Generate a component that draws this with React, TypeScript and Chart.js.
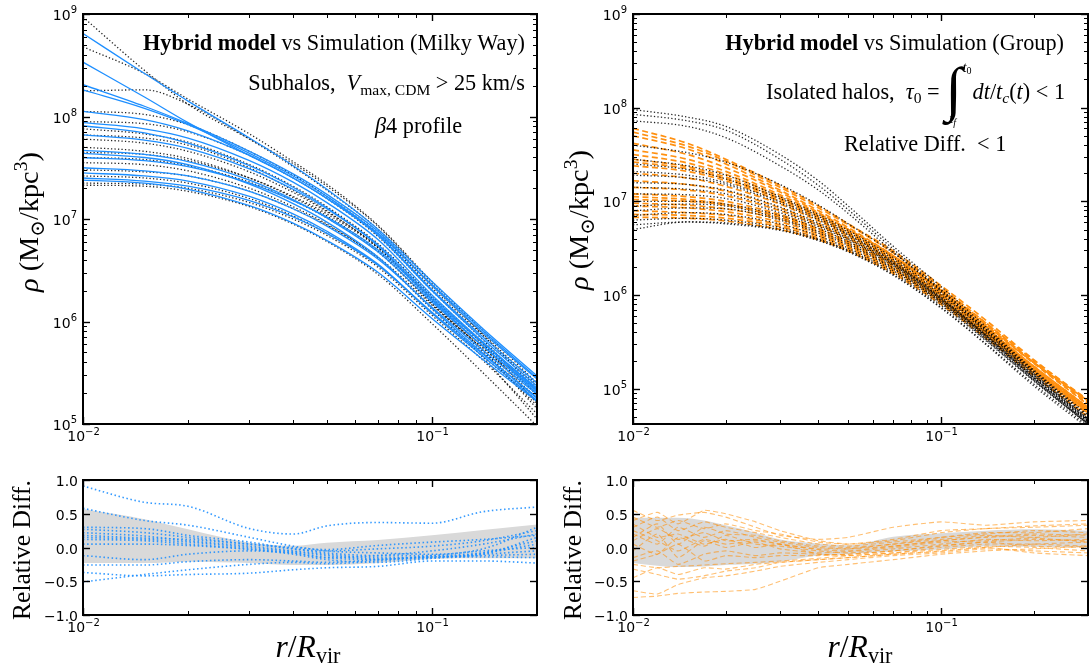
import React, { useEffect, useRef } from "react";
import { Chart, registerables } from "chart.js";

Chart.register(...registerables);

const FIG_W = 1092;
const FIG_H = 671;
const SERIF = "'Liberation Serif', 'DejaVu Serif', serif";
const SANS = "'DejaVu Sans', sans-serif";

// ---------------- radii (r / R_vir) ----------------
const R_MW = [0.01, 0.015, 0.02, 0.03, 0.04, 0.05, 0.07, 0.1, 0.14, 0.2];
const R_GRP = [0.01, 0.015, 0.02, 0.03, 0.04, 0.05, 0.07, 0.1, 0.14, 0.2, 0.3];
const R_GRP_RES = [0.01, 0.012, 0.014, 0.017, 0.02, 0.025, 0.03, 0.04, 0.05, 0.07, 0.1, 0.14, 0.2, 0.3];

// ---------------- tick values ----------------
const RES_TICKS = [-1, -0.5, 0, 0.5, 1];

// ---------------- Milky Way: hybrid model, log10(rho) ----------------
const MW_MODEL_LOG = [
  [8.81, 8.42, 8.15, 7.79, 7.52, 7.29, 6.90, 6.39, 5.93, 5.47],
  [8.53, 8.19, 7.94, 7.62, 7.40, 7.20, 6.86, 6.36, 5.91, 5.45],
  [8.31, 8.10, 7.93, 7.66, 7.44, 7.24, 6.88, 6.35, 5.89, 5.44],
  [8.26, 8.08, 7.92, 7.64, 7.42, 7.22, 6.85, 6.31, 5.85, 5.40],
  [8.05, 7.97, 7.86, 7.62, 7.40, 7.20, 6.84, 6.30, 5.83, 5.37],
  [7.94, 7.88, 7.79, 7.57, 7.36, 7.16, 6.80, 6.26, 5.80, 5.34],
  [7.91, 7.84, 7.74, 7.52, 7.31, 7.11, 6.74, 6.21, 5.76, 5.30],
  [7.82, 7.77, 7.69, 7.49, 7.29, 7.10, 6.75, 6.24, 5.79, 5.33],
  [7.67, 7.63, 7.56, 7.38, 7.19, 7.01, 6.68, 6.19, 5.76, 5.32],
  [7.64, 7.60, 7.53, 7.34, 7.15, 6.97, 6.63, 6.13, 5.69, 5.25],
  [7.60, 7.57, 7.51, 7.35, 7.18, 7.02, 6.70, 6.22, 5.79, 5.35],
  [7.50, 7.47, 7.42, 7.27, 7.10, 6.93, 6.61, 6.14, 5.72, 5.29],
  [7.45, 7.42, 7.37, 7.22, 7.05, 6.88, 6.56, 6.08, 5.66, 5.23],
  [7.40, 7.37, 7.32, 7.18, 7.02, 6.86, 6.55, 6.09, 5.68, 5.26],
  [7.38, 7.35, 7.29, 7.13, 6.96, 6.79, 6.48, 6.03, 5.63, 5.22],
];

// ---------------- Milky Way: simulation, log10(rho) ----------------
const MW_SIM_LOG = [
  [8.97, 8.45, 8.12, 7.78, 7.54, 7.32, 6.93, 6.37, 5.87, 5.33],
  [8.68, 8.42, 8.17, 7.83, 7.56, 7.34, 6.94, 6.39, 5.91, 5.40],
  [8.25, 8.26, 8.12, 7.78, 7.51, 7.28, 6.90, 6.35, 5.88, 5.38],
  [8.05, 8.02, 7.92, 7.66, 7.43, 7.22, 6.86, 6.33, 5.86, 5.36],
  [7.95, 7.93, 7.85, 7.62, 7.40, 7.20, 6.83, 6.30, 5.82, 5.28],
  [7.88, 7.83, 7.75, 7.53, 7.32, 7.12, 6.76, 6.25, 5.78, 5.20],
  [7.82, 7.79, 7.72, 7.50, 7.28, 7.08, 6.72, 6.20, 5.72, 5.15],
  [7.78, 7.74, 7.66, 7.46, 7.26, 7.07, 6.73, 6.22, 5.75, 5.25],
  [7.70, 7.66, 7.59, 7.40, 7.21, 7.03, 6.69, 6.18, 5.72, 5.22],
  [7.65, 7.63, 7.57, 7.40, 7.22, 7.05, 6.72, 6.23, 5.78, 5.32],
  [7.55, 7.53, 7.47, 7.30, 7.12, 6.95, 6.62, 6.12, 5.65, 5.05],
  [7.48, 7.46, 7.42, 7.27, 7.10, 6.94, 6.63, 6.16, 5.74, 5.30],
  [7.42, 7.40, 7.35, 7.20, 7.03, 6.86, 6.55, 6.08, 5.66, 5.22],
  [7.35, 7.34, 7.30, 7.16, 7.00, 6.84, 6.53, 6.06, 5.62, 5.10],
  [7.33, 7.32, 7.27, 7.12, 6.95, 6.78, 6.46, 5.98, 5.50, 4.98],
  [7.60, 7.58, 7.52, 7.36, 7.18, 7.01, 6.68, 6.17, 5.70, 5.18],
];

// ---------------- Group: hybrid model, log10(rho) ----------------
const GRP_MODEL_LOG = [
  [7.78, 7.62, 7.45, 7.17, 6.95, 6.76, 6.47, 6.10, 5.73, 5.31, 4.87],
  [7.74, 7.59, 7.43, 7.15, 6.93, 6.75, 6.45, 6.08, 5.70, 5.28, 4.84],
  [7.70, 7.56, 7.40, 7.12, 6.90, 6.72, 6.42, 6.05, 5.68, 5.27, 4.83],
  [7.62, 7.50, 7.36, 7.10, 6.88, 6.70, 6.41, 6.04, 5.66, 5.24, 4.80],
  [7.55, 7.45, 7.32, 7.07, 6.87, 6.70, 6.42, 6.06, 5.70, 5.30, 4.88],
  [7.50, 7.41, 7.29, 7.05, 6.85, 6.68, 6.40, 6.04, 5.68, 5.28, 4.86],
  [7.45, 7.37, 7.26, 7.03, 6.84, 6.67, 6.39, 6.02, 5.65, 5.24, 4.80],
  [7.42, 7.35, 7.24, 7.02, 6.83, 6.66, 6.38, 6.01, 5.64, 5.23, 4.79],
  [7.38, 7.32, 7.22, 7.00, 6.81, 6.65, 6.37, 6.00, 5.63, 5.22, 4.78],
  [7.30, 7.25, 7.16, 6.97, 6.79, 6.63, 6.36, 6.00, 5.63, 5.22, 4.78],
  [7.22, 7.18, 7.11, 6.93, 6.76, 6.61, 6.34, 5.98, 5.61, 5.20, 4.76],
  [7.15, 7.12, 7.06, 6.90, 6.74, 6.60, 6.34, 5.99, 5.63, 5.23, 4.80],
  [7.08, 7.05, 7.00, 6.86, 6.71, 6.57, 6.31, 5.96, 5.60, 5.20, 4.76],
  [7.02, 7.00, 6.96, 6.83, 6.69, 6.55, 6.30, 5.96, 5.60, 5.20, 4.77],
  [6.98, 6.96, 6.92, 6.81, 6.67, 6.54, 6.29, 5.95, 5.59, 5.19, 4.75],
  [6.95, 6.93, 6.89, 6.78, 6.65, 6.52, 6.27, 5.93, 5.57, 5.17, 4.73],
  [6.90, 6.88, 6.85, 6.75, 6.63, 6.51, 6.27, 5.94, 5.59, 5.20, 4.77],
  [6.86, 6.85, 6.82, 6.73, 6.61, 6.49, 6.25, 5.92, 5.57, 5.17, 4.74],
  [6.83, 6.82, 6.79, 6.70, 6.59, 6.47, 6.23, 5.90, 5.54, 5.14, 4.70],
  [7.05, 7.02, 6.97, 6.84, 6.70, 6.57, 6.33, 6.00, 5.66, 5.28, 4.87],
];

// ---------------- Group: simulation, log10(rho) ----------------
const GRP_SIM_LOG = [
  [7.98, 7.90, 7.80, 7.50, 7.22, 6.95, 6.52, 6.09, 5.66, 5.20, 4.72],
  [7.93, 7.86, 7.76, 7.45, 7.17, 6.91, 6.49, 6.06, 5.63, 5.17, 4.68],
  [7.86, 7.80, 7.68, 7.38, 7.12, 6.87, 6.46, 6.04, 5.61, 5.15, 4.66],
  [7.45, 7.38, 7.28, 7.05, 6.86, 6.69, 6.40, 6.02, 5.62, 5.18, 4.70],
  [7.40, 7.34, 7.24, 7.03, 6.84, 6.67, 6.38, 6.00, 5.60, 5.16, 4.68],
  [7.32, 7.28, 7.20, 7.00, 6.82, 6.65, 6.36, 5.98, 5.58, 5.14, 4.66],
  [7.28, 7.25, 7.18, 6.98, 6.80, 6.64, 6.35, 5.97, 5.57, 5.12, 4.64],
  [7.20, 7.18, 7.12, 6.94, 6.77, 6.62, 6.34, 5.96, 5.56, 5.12, 4.65],
  [7.15, 7.13, 7.08, 6.91, 6.75, 6.60, 6.33, 5.96, 5.57, 5.14, 4.67],
  [7.08, 7.07, 7.03, 6.88, 6.73, 6.59, 6.32, 5.95, 5.56, 5.12, 4.65],
  [7.00, 7.00, 6.97, 6.85, 6.71, 6.57, 6.31, 5.94, 5.55, 5.11, 4.63],
  [6.95, 6.97, 6.95, 6.82, 6.68, 6.55, 6.29, 5.93, 5.54, 5.10, 4.62],
  [6.90, 6.93, 6.92, 6.80, 6.66, 6.53, 6.28, 5.92, 5.53, 5.09, 4.62],
  [6.85, 6.88, 6.86, 6.76, 6.63, 6.50, 6.26, 5.91, 5.52, 5.09, 4.63],
  [6.80, 6.82, 6.80, 6.72, 6.60, 6.48, 6.24, 5.89, 5.51, 5.08, 4.62],
  [6.75, 6.78, 6.77, 6.70, 6.59, 6.47, 6.22, 5.87, 5.48, 5.05, 4.60],
  [6.70, 6.78, 6.76, 6.69, 6.58, 6.46, 6.21, 5.86, 5.47, 5.03, 4.58],
  [7.60, 7.52, 7.42, 7.18, 6.96, 6.76, 6.45, 6.05, 5.64, 5.19, 4.70],
];

// ---------------- Milky Way: relative difference ----------------
const MW_RES = [
  [0.91, 0.67, 0.61, 0.28, 0.20, 0.32, 0.37, 0.36, 0.53, 0.60],
  [0.58, 0.40, 0.33, 0.15, 0.02, -0.05, -0.08, -0.10, -0.02, 0.30],
  [0.27, 0.22, 0.15, 0.05, -0.02, -0.08, -0.12, -0.12, -0.08, 0.05],
  [0.22, 0.17, 0.10, 0.02, -0.05, -0.10, -0.15, -0.15, -0.10, 0.15],
  [0.15, 0.12, 0.08, 0.00, -0.06, -0.12, -0.17, -0.14, -0.14, -0.15],
  [0.12, 0.10, 0.05, -0.02, -0.08, -0.15, -0.18, -0.12, -0.05, 0.00],
  [-0.12, -0.18, -0.10, -0.05, -0.08, -0.15, -0.12, -0.05, 0.05, 0.20],
  [-0.26, -0.26, -0.21, -0.18, -0.20, -0.22, -0.18, -0.14, -0.12, -0.10],
  [-0.37, -0.42, -0.40, -0.38, -0.33, -0.30, -0.28, -0.20, -0.20, -0.23],
  [-0.51, -0.40, -0.33, -0.25, -0.22, -0.24, -0.20, -0.15, -0.10, -0.05],
  [0.30, 0.28, 0.18, 0.08, -0.02, -0.05, -0.02, 0.02, 0.10, 0.25],
  [0.05, 0.05, 0.03, -0.03, -0.10, -0.18, -0.22, -0.16, -0.08, 0.10],
  [0.18, 0.14, 0.12, 0.05, 0.00, -0.03, 0.03, 0.08, 0.12, 0.18],
];
const MW_BAND_HI = [0.57, 0.42, 0.27, 0.07, 0.025, 0.07, 0.11, 0.18, 0.26, 0.34];
const MW_BAND_LO = [-0.23, -0.23, -0.21, -0.23, -0.26, -0.26, -0.23, -0.17, -0.16, -0.16];

// ---------------- Group: relative difference ----------------
const GRP_RES = [
  [0.55, 0.40, 0.48, 0.52, 0.45, 0.30, 0.18, 0.12, 0.15, 0.30, 0.38, 0.33, 0.38, 0.40],
  [0.40, 0.52, 0.35, 0.55, 0.50, 0.38, 0.25, 0.10, 0.05, 0.10, 0.22, 0.28, 0.30, 0.33],
  [0.30, 0.45, 0.25, 0.38, 0.30, 0.22, 0.15, 0.05, 0.02, 0.08, 0.15, 0.20, 0.25, 0.22],
  [0.20, 0.05, 0.30, 0.15, 0.25, 0.15, 0.08, 0.00, -0.02, 0.05, 0.12, 0.18, 0.15, 0.20],
  [0.10, 0.28, 0.12, 0.22, 0.10, 0.12, 0.05, -0.03, -0.05, 0.02, 0.10, 0.15, 0.18, 0.15],
  [0.05, -0.10, 0.15, 0.02, 0.18, 0.05, 0.02, -0.05, -0.08, -0.02, 0.05, 0.12, 0.10, 0.12],
  [-0.05, 0.20, -0.15, 0.10, 0.00, 0.08, -0.02, -0.08, -0.06, 0.00, 0.08, 0.10, 0.14, 0.08],
  [0.35, 0.15, 0.20, 0.05, 0.12, 0.00, 0.05, -0.10, -0.10, -0.05, 0.03, 0.08, 0.12, 0.10],
  [-0.15, -0.05, -0.25, -0.10, -0.05, -0.12, -0.08, -0.10, -0.12, -0.08, 0.00, 0.05, 0.05, 0.02],
  [-0.25, -0.30, -0.28, -0.26, -0.24, -0.22, -0.20, -0.16, -0.12, -0.08, -0.03, 0.02, 0.00, -0.05],
  [-0.32, -0.40, -0.47, -0.42, -0.35, -0.30, -0.22, -0.18, -0.15, -0.10, -0.05, 0.00, -0.08, -0.12],
  [-0.64, -0.69, -0.55, -0.45, -0.42, -0.35, -0.28, -0.22, -0.18, -0.12, -0.08, -0.02, -0.05, -0.08],
  [-0.74, -0.72, -0.68, -0.66, -0.65, -0.62, -0.50, -0.30, -0.25, -0.18, -0.10, -0.05, -0.02, 0.02],
  [0.45, 0.30, 0.40, 0.28, 0.35, 0.25, 0.20, 0.08, 0.05, 0.12, 0.25, 0.28, 0.32, 0.35],
  [0.15, 0.35, 0.05, 0.30, 0.20, 0.18, 0.10, 0.02, 0.00, 0.05, 0.15, 0.22, 0.22, 0.28],
  [-0.20, -0.10, 0.05, -0.20, -0.12, -0.15, -0.12, -0.12, -0.10, -0.05, 0.02, 0.08, 0.02, 0.00],
  [0.25, 0.10, -0.05, 0.12, 0.05, 0.10, 0.05, -0.02, -0.02, 0.02, 0.10, 0.16, 0.20, 0.18],
  [-0.45, -0.30, -0.40, -0.30, -0.32, -0.25, -0.22, -0.18, -0.15, -0.10, -0.06, 0.00, 0.05, 0.08],
];
const GRP_BAND_HI = [0.44, 0.44, 0.44, 0.40, 0.33, 0.22, 0.12, 0.06, 0.035, 0.16, 0.21, 0.25, 0.27, 0.25];
const GRP_BAND_LO = [-0.23, -0.27, -0.29, -0.28, -0.26, -0.24, -0.21, -0.12, -0.10, -0.06, -0.03, 0.02, 0.01, 0.0];

// ---------------- rich text helpers ----------------
type Seg = { t: string; f?: string; s?: number; dy?: number; dx?: number };

function fontOf(seg: Seg, size: number) {
  return `${seg.f ? seg.f + " " : ""}${(size * (seg.s ?? 1)).toFixed(2)}px ${SERIF}`;
}
function richWidth(ctx: CanvasRenderingContext2D, segs: Seg[], size: number) {
  let w = 0;
  for (const s of segs) {
    w += (s.dx ?? 0) * size;
    ctx.font = fontOf(s, size);
    w += ctx.measureText(s.t).width;
  }
  return w;
}
function drawRich(ctx: CanvasRenderingContext2D, segs: Seg[], x: number, y: number, size: number, align: string) {
  const w = richWidth(ctx, segs, size);
  let cx = align === "left" ? x : align === "right" ? x - w : x - w / 2;
  ctx.textAlign = "left";
  ctx.textBaseline = "alphabetic";
  for (const s of segs) {
    cx += (s.dx ?? 0) * size;
    ctx.font = fontOf(s, size);
    ctx.fillText(s.t, cx, y + (s.dy ?? 0) * size);
    cx += ctx.measureText(s.t).width;
  }
}
function fitSize(ctx: CanvasRenderingContext2D, segs: Seg[], target: number) {
  return (20 * target) / richWidth(ctx, segs, 20);
}
function drawRotated(ctx: CanvasRenderingContext2D, segs: Seg[], bx: number, cy: number, length: number) {
  const size = fitSize(ctx, segs, length);
  ctx.save();
  ctx.translate(bx, cy);
  ctx.rotate(-Math.PI / 2);
  drawRich(ctx, segs, 0, 0, size, "center");
  ctx.restore();
}

const RHO_LABEL: Seg[] = [
  { t: "ρ", f: "italic" },
  { t: " (M" },
  { t: "⊙", s: 0.7, dy: 0.2 },
  { t: "/kpc" },
  { t: "3", s: 0.7, dy: -0.4 },
  { t: ")" },
];
const RES_LABEL: Seg[] = [{ t: "Relative Diff." }];
const X_LABEL: Seg[] = [
  { t: "r", f: "italic" },
  { t: "/" },
  { t: "R", f: "italic" },
  { t: "vir", s: 0.7, dy: 0.2 },
];
const TITLE_MW: Seg[] = [{ t: "Hybrid model", f: "bold" }, { t: " vs Simulation (Milky Way)" }];
const TITLE_GRP: Seg[] = [{ t: "Hybrid model", f: "bold" }, { t: " vs Simulation (Group)" }];
const SUB_MW: Seg[] = [
  { t: "Subhalos,  " },
  { t: "V", f: "italic" },
  { t: "max, CDM", s: 0.7, dy: 0.22 },
  { t: " > 25 km/s" },
];
const PROFILE_MW: Seg[] = [{ t: "β", f: "italic" }, { t: "4 profile" }];
const SUB_GRP: Seg[] = [
  { t: "Isolated halos,  " },
  { t: "τ", f: "italic" },
  { t: "0", s: 0.7, dy: 0.18 },
  { t: " = " },
  { t: "∫", s: 2.7, dy: 0.45 },
  { t: "t", f: "italic", s: 0.62, dy: -1.22, dx: 0.05 },
  { t: "0", s: 0.45, dy: -1.12 },
  { t: "t", f: "italic", s: 0.62, dy: 1.1, dx: -1.0 },
  { t: "f", f: "italic", s: 0.45, dy: 1.2 },
  { t: "dt", f: "italic", dx: 0.75 },
  { t: "/" },
  { t: "t", f: "italic" },
  { t: "c", f: "italic", s: 0.7, dy: 0.18 },
  { t: "(" },
  { t: "t", f: "italic" },
  { t: ") < 1" },
];
const CUT_GRP: Seg[] = [{ t: "Relative Diff.  < 1" }];

// ---------------- axes decoration ----------------
function logTicks(min: number, max: number) {
  const out: { v: number; major: boolean; d: number }[] = [];
  for (let d = Math.floor(Math.log10(min)); d <= Math.ceil(Math.log10(max)); d++) {
    for (let k = 1; k <= 9; k++) {
      const v = k * Math.pow(10, d);
      if (v >= min * (1 - 1e-9) && v <= max * (1 + 1e-9)) out.push({ v, major: k === 1, d });
    }
  }
  return out;
}
function expStr(d: number) {
  return d < 0 ? "−" + -d : String(d);
}
const TICK_PX = 14;
const EXP_PX = 10;
function drawPow(ctx: CanvasRenderingContext2D, exp: string, x: number, y: number, align: string) {
  ctx.textAlign = "left";
  ctx.textBaseline = "alphabetic";
  ctx.font = `${TICK_PX}px ${SANS}`;
  const wb = ctx.measureText("10").width;
  ctx.font = `${EXP_PX}px ${SANS}`;
  const we = ctx.measureText(exp).width;
  const w = wb + we;
  const sx = align === "center" ? x - w / 2 : x - w;
  ctx.font = `${TICK_PX}px ${SANS}`;
  ctx.fillText("10", sx, y);
  ctx.font = `${EXP_PX}px ${SANS}`;
  ctx.fillText(exp, sx + wb, y - 6.5);
}

type PanelCfg = {
  key: string;
  area: { l: number; t: number; r: number; b: number };
  xMax: number;
  yLog: boolean;
  yMin: number;
  yMax: number;
  datasets: any[];
  text: (ctx: CanvasRenderingContext2D) => void;
};

function makeDecor(cfg: PanelCfg) {
  return {
    id: "decor_" + cfg.key,
    afterDraw(chart: any) {
      const ctx: CanvasRenderingContext2D = chart.ctx;
      const a = chart.chartArea;
      const xs = chart.scales.x;
      const ys = chart.scales.y;
      ctx.save();
      ctx.fillStyle = "#000";
      ctx.strokeStyle = "#000";
      const seg = (x1: number, y1: number, x2: number, y2: number) => {
        ctx.beginPath();
        ctx.moveTo(x1, y1);
        ctx.lineTo(x2, y2);
        ctx.stroke();
      };
      // x ticks (log)
      for (const t of logTicks(xs.min, xs.max)) {
        const px = Math.round(xs.getPixelForValue(t.v)) + 0.5;
        const len = t.major ? 7 : 4;
        ctx.lineWidth = t.major ? 1.4 : 1;
        seg(px, a.bottom, px, a.bottom - len);
        seg(px, a.top, px, a.top + len);
        if (t.major) drawPow(ctx, expStr(t.d), px, a.bottom + 17, "center");
      }
      // y ticks
      if (cfg.yLog) {
        for (const t of logTicks(ys.min, ys.max)) {
          const py = Math.round(ys.getPixelForValue(t.v)) + 0.5;
          const len = t.major ? 7 : 4;
          ctx.lineWidth = t.major ? 1.4 : 1;
          seg(a.left, py, a.left + len, py);
          seg(a.right, py, a.right - len, py);
          if (t.major) drawPow(ctx, expStr(t.d), a.left - 6, py + 5, "right");
        }
      } else {
        for (const v of RES_TICKS) {
          const py = Math.round(ys.getPixelForValue(v)) + 0.5;
          ctx.lineWidth = 1.4;
          seg(a.left, py, a.left + 7, py);
          seg(a.right, py, a.right - 7, py);
          ctx.font = `${TICK_PX}px ${SANS}`;
          ctx.textAlign = "right";
          ctx.textBaseline = "alphabetic";
          ctx.fillText(v.toFixed(1).replace("-", "−"), a.left - 5, py + 5);
        }
      }
      // frame
      ctx.lineWidth = 2;
      ctx.strokeRect(a.left, a.top, a.right - a.left, a.bottom - a.top);
      ctx.fillStyle = "#000";
      cfg.text(ctx);
      ctx.restore();
    },
  };
}

// ---------------- datasets ----------------
const pow10 = (v: number) => Math.pow(10, v);
const ident = (v: number) => v;

function curves(xs: number[], rows: number[][], toY: (v: number) => number, style: any, order: number) {
  return rows.map((row) => ({
    data: row.map((v, i) => ({ x: xs[i], y: toY(v) })),
    pointRadius: 0,
    fill: false,
    order,
    ...style,
  }));
}
function band(xs: number[], hi: number[], lo: number[]) {
  return [
    {
      data: hi.map((v, i) => ({ x: xs[i], y: v })),
      pointRadius: 0,
      borderWidth: 0,
      borderColor: "rgba(0,0,0,0)",
      fill: false,
      cubicInterpolationMode: "monotone",
      order: 100,
    },
    {
      data: lo.map((v, i) => ({ x: xs[i], y: v })),
      pointRadius: 0,
      borderWidth: 0,
      borderColor: "rgba(0,0,0,0)",
      backgroundColor: "#d9d9d9",
      fill: "-1",
      cubicInterpolationMode: "monotone",
      order: 99,
    },
  ];
}

const BLUE_SOLID = { borderColor: "#1e8fff", borderWidth: 1.3, cubicInterpolationMode: "monotone" };
const BLACK_DOT = {
  borderColor: "rgba(0,0,0,0.85)",
  borderWidth: 1.3,
  borderDash: [1.3, 2.2],
  cubicInterpolationMode: "monotone",
};
const ORANGE_DASH = { borderColor: "#ff9010", borderWidth: 1.7, borderDash: [6, 3.5], cubicInterpolationMode: "monotone" };
const BLUE_DOT = { borderColor: "rgba(30,143,255,0.9)", borderWidth: 1.6, borderDash: [1.5, 2.6], cubicInterpolationMode: "monotone" };
const ORANGE_RES = { borderColor: "rgba(255,140,0,0.55)", borderWidth: 1.1, borderDash: [5, 3], tension: 0.15 };

const PANELS: PanelCfg[] = [
  {
    key: "mw",
    area: { l: 83, t: 14, r: 537, b: 424 },
    xMax: 0.2,
    yLog: true,
    yMin: 1e5,
    yMax: 1e9,
    datasets: [
      ...curves(R_MW, MW_MODEL_LOG, pow10, BLUE_SOLID, 1),
      ...curves(R_MW, MW_SIM_LOG, pow10, BLACK_DOT, 2),
    ],
    text: (ctx) => {
      const S = fitSize(ctx, TITLE_MW, 382);
      drawRich(ctx, TITLE_MW, 525, 50, S, "right");
      drawRich(ctx, SUB_MW, 525, 90, S, "right");
      drawRich(ctx, PROFILE_MW, 375, 133, S, "left");
      drawRotated(ctx, RHO_LABEL, 38, 222, 140);
    },
  },
  {
    key: "grp",
    area: { l: 633, t: 14, r: 1088, b: 424 },
    xMax: 0.3,
    yLog: true,
    yMin: 4.2e4,
    yMax: 1e9,
    datasets: [
      ...curves(R_GRP, GRP_SIM_LOG, pow10, BLACK_DOT, 1),
      ...curves(R_GRP, GRP_MODEL_LOG, pow10, ORANGE_DASH, 2),
    ],
    text: (ctx) => {
      const S = fitSize(ctx, TITLE_MW, 382);
      drawRich(ctx, TITLE_GRP, 1064, 50, S, "right");
      drawRich(ctx, SUB_GRP, 1065, 99, S, "right");
      drawRich(ctx, CUT_GRP, 844, 151, S, "left");
      drawRotated(ctx, RHO_LABEL, 588, 220, 140);
    },
  },
  {
    key: "mwres",
    area: { l: 83, t: 480, r: 537, b: 615 },
    xMax: 0.2,
    yLog: false,
    yMin: -1,
    yMax: 1,
    datasets: [...band(R_MW, MW_BAND_HI, MW_BAND_LO), ...curves(R_MW, MW_RES, ident, BLUE_DOT, 1)],
    text: (ctx) => {
      drawRotated(ctx, RES_LABEL, 30, 550, 140);
      const s = fitSize(ctx, X_LABEL, 65);
      drawRich(ctx, X_LABEL, 308, 657, s, "center");
    },
  },
  {
    key: "grpres",
    area: { l: 633, t: 480, r: 1088, b: 615 },
    xMax: 0.3,
    yLog: false,
    yMin: -1,
    yMax: 1,
    datasets: [...band(R_GRP_RES, GRP_BAND_HI, GRP_BAND_LO), ...curves(R_GRP_RES, GRP_RES, ident, ORANGE_RES, 1)],
    text: (ctx) => {
      drawRotated(ctx, RES_LABEL, 581, 550, 140);
      const s = fitSize(ctx, X_LABEL, 65);
      drawRich(ctx, X_LABEL, 860, 657, s, "center");
    },
  },
];

function buildChart(canvas: HTMLCanvasElement, p: PanelCfg) {
  return new Chart(canvas, {
    type: "line",
    data: { datasets: p.datasets },
    options: {
      animation: false,
      responsive: false,
      devicePixelRatio: 1,
      events: [],
      layout: {
        padding: { left: p.area.l, top: p.area.t, right: FIG_W - p.area.r, bottom: FIG_H - p.area.b },
      },
      scales: {
        x: { type: "logarithmic", min: 0.01, max: p.xMax, display: false },
        y: p.yLog
          ? { type: "logarithmic", min: p.yMin, max: p.yMax, display: false }
          : { type: "linear", min: p.yMin, max: p.yMax, display: false },
      },
      plugins: {
        legend: { display: false },
        tooltip: { enabled: false },
      },
    } as any,
    plugins: [makeDecor(p)],
  });
}

export default function App() {
  const r0 = useRef<HTMLCanvasElement>(null);
  const r1 = useRef<HTMLCanvasElement>(null);
  const r2 = useRef<HTMLCanvasElement>(null);
  const r3 = useRef<HTMLCanvasElement>(null);
  const refs = [r0, r1, r2, r3];

  useEffect(() => {
    const charts = PANELS.map((p, i) => buildChart(refs[i].current as HTMLCanvasElement, p));
    return () => charts.forEach((c) => c.destroy());
  }, []);

  return (
    <div
      style={{ position: "absolute", left: 0, top: 0, width: FIG_W, height: FIG_H, background: "#fff", overflow: "hidden" }}
    >
      {refs.map((r, i) => (
        <canvas
          key={i}
          ref={r}
          width={FIG_W}
          height={FIG_H}
          style={{ position: "absolute", left: 0, top: 0, width: FIG_W, height: FIG_H }}
        />
      ))}
    </div>
  );
}
